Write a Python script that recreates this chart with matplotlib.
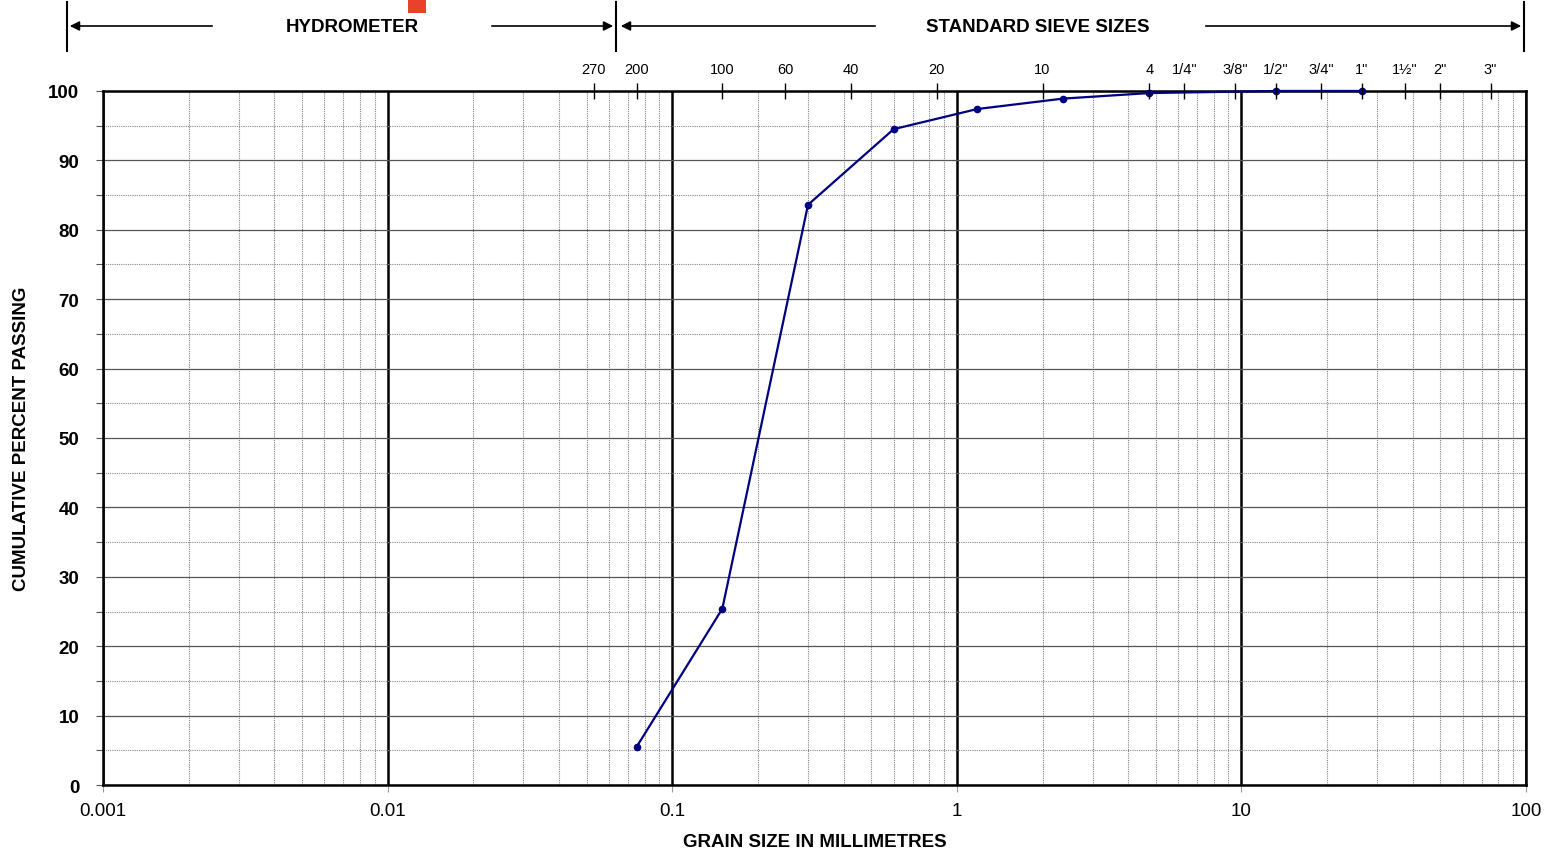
import matplotlib
matplotlib.use("Agg")
import matplotlib.pyplot as plt
from matplotlib.patches import Rectangle, FancyArrowPatch
from matplotlib.ticker import LogLocator, MultipleLocator, NullFormatter, NullLocator

plt.rcParams["font.family"] = ["Liberation Sans", "DejaVu Sans"]

# grading test result: sieve opening (mm) vs cumulative % passing
grain_mm = [0.075, 0.15, 0.3, 0.6, 1.18, 2.36, 4.75, 13.2, 26.5]
passing = [5.5, 25.4, 83.6, 94.5, 97.4, 98.9, 99.7, 100, 100]

# standard sieve sizes shown along the top edge
sieve_mm = [0.053, 0.075, 0.15, 0.25, 0.425, 0.85, 2.0, 4.75, 6.3, 9.5,
            13.2, 19, 26.5, 37.5, 50, 75]
sieve_labels = ["270", "200", "100", "60", "40", "20", "10", "4", '1/4"',
                '3/8"', '1/2"', '3/4"', '1"', '1½"', '2"', '3"']

x_ticks = [0.001, 0.01, 0.1, 1, 10, 100]
x_tick_labels = ["0.001", "0.01", "0.1", "1", "10", "100"]

fig = plt.figure(figsize=(15.55, 8.54), dpi=100)
ax = fig.add_axes([0.0662, 0.0796, 0.9152, 0.8127])

ax.set_xscale("log")
ax.set_xlim(0.001, 100)
ax.set_ylim(0, 100)

# grid: heavy decades, dotted minors
ax.xaxis.set_minor_locator(LogLocator(base=10, subs=range(2, 10), numticks=20))
ax.xaxis.set_minor_formatter(NullFormatter())
ax.set_xticks(x_ticks, x_tick_labels)
ax.yaxis.set_major_locator(MultipleLocator(10))
ax.yaxis.set_minor_locator(MultipleLocator(5))

ax.grid(True, axis="x", which="major", color="black", lw=1.8)
ax.grid(True, axis="x", which="minor", color="#808080", lw=0.8, ls=(0, (1, 1)))
ax.grid(True, axis="y", which="major", color="#555555", lw=0.9)
ax.grid(True, axis="y", which="minor", color="#888888", lw=0.8, ls=(0, (1, 1)))
ax.set_axisbelow(True)

for s in ax.spines.values():
    s.set_linewidth(1.8)

ax.tick_params(axis="y", which="both", direction="out", length=5, width=0.8,
               color="#555555", labelsize=13.5, pad=12)
ax.tick_params(axis="x", which="major", direction="out", length=5, width=0.8,
               color="#999999", labelsize=13.5, pad=7)
ax.tick_params(axis="x", which="minor", length=0)
for lab in ax.get_yticklabels():
    lab.set_fontweight("bold")

ax.plot(grain_mm, passing, color="#000080", lw=1.6, marker="o", ms=4.5,
        zorder=5, clip_on=False)

ax.set_xlabel("GRAIN SIZE IN MILLIMETRES", fontsize=13.5, fontweight="bold")
ax.set_ylabel("CUMULATIVE PERCENT PASSING", fontsize=13.5, fontweight="bold")
ax.xaxis.set_label_coords(0.5, -0.069)
ax.yaxis.set_label_coords(-0.051, 0.5)

# sieve size ticks across the top edge
top = ax.twiny()
top.set_xscale("log")
top.set_xlim(ax.get_xlim())
top.set_xticks(sieve_mm, sieve_labels)
top.xaxis.set_minor_locator(NullLocator())
top.tick_params(axis="x", which="major", direction="inout", length=11,
                width=1.0, labelsize=10.5, pad=5)
for s in top.spines.values():
    s.set_visible(False)


# header: hydrometer / sieve ranges (figure pixel positions)
def fx(px):
    return px / 1555


def fy(px):
    return 1 - px / 854


arrow = dict(arrowstyle="-|>", color="black", lw=1.2, mutation_scale=14)
y_arrow = fy(27)
for x0 in (67, 616, 1524):
    fig.add_artist(plt.Line2D([fx(x0), fx(x0)], [fy(3), fy(52)],
                              color="black", lw=1.5))
for start, end in ((215, 67), (489, 616), (878, 618), (1203, 1524)):
    fig.add_artist(FancyArrowPatch((fx(start), y_arrow), (fx(end), y_arrow),
                                   transform=fig.transFigure, **arrow))
fig.text(fx(352), y_arrow, "HYDROMETER", ha="center", va="center",
         fontsize=13.5, fontweight="bold")
fig.text(fx(1038), y_arrow, "STANDARD SIEVE SIZES", ha="center", va="center",
         fontsize=13.5, fontweight="bold")

fig.add_artist(Rectangle((fx(408), fy(14)), 18 / 1555, 14 / 854,
                         transform=fig.transFigure, color="#E8412C", lw=0))

fig.savefig("out.png", dpi=100)
